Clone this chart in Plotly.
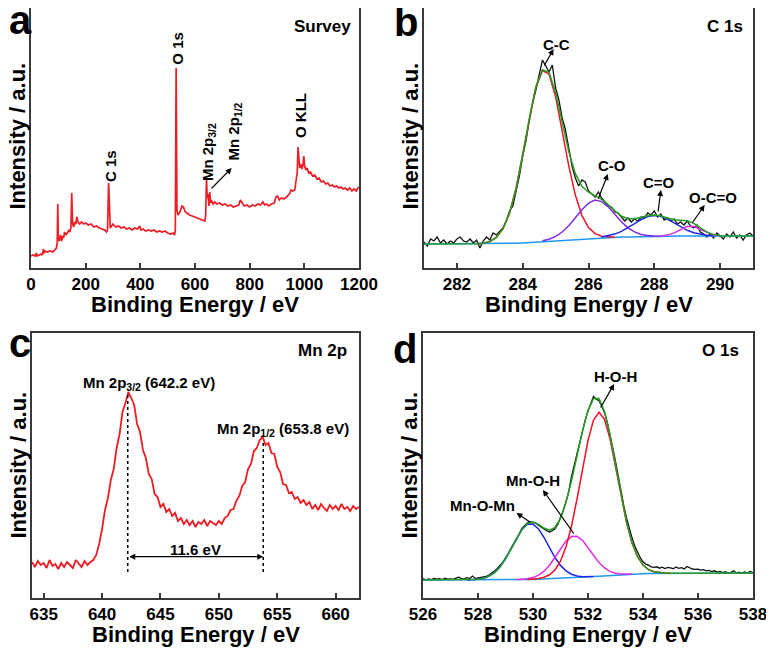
import numpy as np
import plotly.graph_objects as go

W, H = 774, 651
OFF = 8   # margen del <body> del html: la figura se dibuja desplazada 8 px
FONT = "Liberation Sans, Arial, sans-serif"

# ---------------- datos (a) survey ----------------
survey_be = [0, 8, 15, 20, 23, 30, 38, 42, 45, 48,
             52, 60, 70, 80, 88, 93, 96, 98, 100, 103,
             108, 112, 116, 119, 123, 128, 133, 138, 142, 146,
             149, 152, 156, 160, 164, 168, 172, 178, 185, 192,
             200, 210, 220, 230, 240, 250, 260, 270, 276, 280,
             284, 287, 290, 295, 300, 310, 320, 330, 340, 350,
             360, 370, 380, 390, 398, 402, 410, 420, 430, 440,
             450, 460, 470, 480, 490, 500, 510, 520, 525, 528,
             531, 534, 538, 545, 552, 558, 563, 570, 580, 590,
             600, 610, 620, 630, 636, 639, 642, 645, 648, 651,
             654, 657, 660, 666, 672, 680, 690, 700, 710, 720,
             730, 740, 750, 760, 766, 772, 780, 790, 800, 810,
             820, 830, 840, 848, 855, 862, 870, 880, 890, 896,
             902, 908, 915, 925, 935, 945, 952, 958, 965, 970,
             974, 977, 980, 983, 987, 991, 995, 998, 1001, 1006,
             1010, 1016, 1022, 1030, 1038, 1046, 1054, 1062, 1070, 1078,
             1086, 1094, 1102, 1110, 1118, 1126, 1134, 1142, 1150, 1158,
             1166, 1174, 1182, 1190, 1196, 1200]
survey_int = [12, 13, 12, 15, 12, 13, 14, 13, 19, 15,
              17, 16, 17, 16, 18, 20, 25, 64, 30, 27,
              33, 27, 32, 30, 36, 33, 35, 38, 36, 40,
              75, 45, 41, 46, 44, 51, 46, 44, 46, 44,
              45, 43, 44, 41, 42, 40, 39, 38, 36, 38,
              85, 45, 40, 42, 44, 41, 42, 40, 41, 39,
              40, 38, 40, 39, 42, 38, 39, 37, 38, 37,
              38, 36, 37, 36, 37, 35, 34, 35, 33, 38,
              200, 58, 53, 56, 62, 61, 57, 55, 53, 52,
              51, 50, 49, 48, 47, 52, 89, 70, 74, 62,
              76, 65, 68, 64, 66, 64, 65, 63, 64, 62,
              63, 61, 62, 63, 68, 65, 62, 63, 61, 63,
              62, 64, 63, 66, 63, 64, 62, 64, 65, 71,
              72, 68, 70, 69, 71, 74, 78, 77, 78, 88,
              95, 121, 112, 100, 104, 99, 103, 112, 102, 98,
              100, 95, 96, 92, 93, 89, 90, 86, 87, 84,
              85, 82, 83, 81, 82, 80, 81, 79, 80, 78,
              80, 77, 79, 77, 80, 81]

# ---------------- datos (b) C 1s ----------------
c1s_raw = [26, 22, 29, 27, 31, 25, 28, 24, 27, 25,
           29, 31, 27, 26, 29, 25, 28, 20, 27, 31,
           28, 35, 33, 37, 40, 47, 57, 62, 78, 92,
           112, 127, 148, 165, 178, 192, 208, 202, 196, 203,
           180, 168, 150, 138, 118, 102, 90, 82, 88, 86,
           77, 74, 71, 76, 70, 66, 62, 61, 56, 55,
           51, 47, 50, 46, 49, 47, 51, 50, 55, 53,
           57, 51, 54, 48, 50, 47, 49, 44, 46, 43,
           47, 42, 40, 43, 36, 34, 31, 34, 30, 35,
           32, 29, 34, 31, 36, 30, 33, 28, 33, 35,
           32]                                   # 281.0 -> 291.0, paso 0.1
c1s_fit = [24.0, 24.0, 24.0, 24.0, 24.0, 24.0, 24.0, 24.1, 24.3, 24.8,
           26.5, 30.6, 39.2, 54.9, 79.8, 113.0, 149.6, 181.2, 198.2, 195.7,
           175.6, 145.8, 116.4, 94.4, 81.6, 75.8, 72.4, 68.7, 63.3, 57.1,
           52.0, 49.3, 49.2, 50.7, 52.3, 53.0, 51.9, 50.0, 48.2, 47.7,
           47.2, 44.7, 40.2, 35.9, 33.4, 32.2, 32.0, 32.0, 32.0, 32.0,
           32.0]                                 # 281.0 -> 291.0, paso 0.2
c1s_bg = [24.0] * 11 + [24.1, 24.2, 24.4, 24.7, 25.0, 25.4, 25.9, 26.4, 26.9, 27.4,
                        27.9, 28.3, 28.7, 29.1, 29.5, 29.9, 30.2, 30.5, 30.7, 30.9,
                        31.1, 31.3, 31.4, 31.5, 31.6, 31.7, 31.8, 31.9] + [32.0] * 12
c1s_cc = [24.3, 24.8, 26.5, 30.6, 39.2, 54.9, 79.8, 113.0, 149.6, 180.9,
          197.4, 193.8, 171.4, 137.7, 102.4, 72.9, 52.4, 40.4, 34.4, 31.8,
          31.0, 30.8]                            # desde 282.6
c1s_co = [27.2, 28.8, 31.6, 36.0, 42.3, 50.2, 58.3, 64.9, 67.9, 66.4,
          61.2, 53.8, 46.3, 40.2, 36.1, 33.6, 32.4, 32.0, 31.8]   # desde 284.6
c1s_c_o = [30.9, 32.1, 33.9, 36.6, 40.2, 44.4, 48.5, 51.4, 52.6, 51.6,
           48.9, 45.0, 41.1, 37.7, 35.2, 33.6, 32.7, 32.3]        # desde 286.4
c1s_oco = [31.9, 32.9, 35.1, 38.6, 41.5, 41.5, 38.6, 35.2, 33.1, 32.2]  # desde 288.2

# ---------------- datos (c) Mn 2p ----------------
mn2p_int = [36, 31, 37, 33, 35, 30, 38, 32, 34, 29,
            35, 31, 36, 33, 30, 38, 34, 31, 37, 33,
            36, 38, 43, 54, 69, 88, 100, 118, 129, 150,
            164, 186, 195, 206, 200, 193, 174, 166, 148, 140,
            124, 119, 104, 101, 91, 94, 86, 89, 82, 85,
            77, 80, 74, 78, 73, 77, 71, 76, 74, 78,
            72, 77, 75, 73, 77, 74, 80, 82, 88, 89,
            97, 102, 112, 116, 129, 134, 147, 150, 158, 161,
            153, 155, 145, 144, 131, 126, 114, 113, 105, 106,
            99, 101, 95, 98, 93, 96, 89, 93, 88, 94,
            90, 87, 93, 89, 92, 88, 94, 89, 91, 87,
            92, 89, 91]                          # 634.0 -> 662.0, paso 0.25
mn_peaks = [642.2, 653.8]
mn_peak_tops = [206, 158]

# ---------------- datos (d) O 1s ----------------
o1s_raw = [19.5, 18.2, 19.0, 18.4, 19.6, 18.8, 19.3, 18.5, 19.8, 18.9,
           19.2, 18.6, 19.9, 20.8, 19.4, 19.1, 20.3, 19.5, 21.9, 19.6,
           20.1, 20.4, 20.9, 21.5, 23.0, 24.6, 27.0, 29.5, 32.4, 35.6,
           40.2, 44.1, 49.8, 54.0, 59.5, 64.2, 69.8, 72.6, 75.1, 76.4,
           75.5, 74.8, 72.9, 70.6, 69.1, 67.3, 66.0, 67.4, 69.2, 73.5,
           79.8, 87.3, 96.1, 106.4, 121.5, 133.2, 145.0, 156.3, 167.9, 178.2,
           187.0, 194.6, 201.5, 198.7, 197.4, 192.0, 185.1, 175.8, 163.9, 150.2,
           136.7, 121.0, 107.4, 92.6, 80.1, 69.3, 60.4, 52.1, 46.0, 40.3,
           36.2, 33.9, 32.8, 31.0, 30.6, 31.2, 29.8, 30.9, 29.5, 30.6,
           30.1, 29.3, 31.0, 29.7, 30.4, 29.1, 31.5, 30.2, 29.0, 28.6,
           28.9, 27.8, 28.3, 27.1, 27.6, 26.4, 27.2, 25.9, 26.5, 25.3,
           26.2, 25.0, 25.6, 27.3, 25.1, 25.8, 24.9, 26.1, 25.2, 26.6,
           25.4]                                 # 526.0 -> 538.0, paso 0.1
o1s_fit = [18.0] * 8 + [18.1, 18.3, 18.7, 19.7, 21.8, 25.4, 31.1, 39.1, 49.2, 59.8,
                        68.9, 74.6, 75.9, 73.7, 70.0, 67.9, 70.5, 79.6, 95.7, 117.2,
                        142.1, 166.9, 187.5, 199.4, 199.4, 186.6, 163.1, 133.3, 102.8, 75.9,
                        55.3, 41.4, 33.0, 28.4, 26.2, 25.2, 24.9] + [24.7] * 16
o1s_bg = [18.0] * 16 + [18.1, 18.2, 18.3, 18.5, 18.6, 18.8, 19.0, 19.2, 19.4, 19.5,
                        19.8, 20.0, 20.3, 20.6, 21.0, 21.4, 21.8, 22.2, 22.6, 23.0,
                        23.3, 23.6, 23.9, 24.1, 24.3, 24.4, 24.5, 24.6] + [24.7] * 17
o1s_mnomn = [18.1, 18.3, 18.7, 19.7, 21.8, 25.4, 31.1, 39.1, 49.2, 59.7,
             68.6, 73.8, 73.9, 69.1, 60.5, 50.3, 40.5, 32.6, 27.2, 23.8,
             22.0, 21.3, 21.3, 21.5]            # desde 527.6
o1s_mnoh = [18.3, 18.6, 19.3, 20.4, 22.8, 26.8, 32.8, 40.7, 49.2, 56.9,
            61.4, 61.7, 57.7, 50.7, 42.7, 35.4, 30.0, 26.6, 24.8, 24.1,
            23.9, 23.9]                          # desde 529.4
o1s_hoh = [18.6, 18.8, 19.4, 20.7, 23.2, 28.1, 36.8, 51.2, 72.0, 99.0,
           129.1, 157.5, 178.0, 185.8, 178.8, 159.1, 131.5, 102.0, 75.6, 55.3,
           41.4, 33.0, 28.4, 26.2, 25.2, 24.9, 24.7]   # desde 529.8


def grid(start, step, n):
    return np.round(start + step * np.arange(n), 3)


RED = "rgb(238,28,36)"
GREEN = "rgb(36,158,36)"
C_RED = "rgb(240,20,40)"
C_PURPLE = "rgb(128,40,236)"
C_BLUE = "rgb(32,40,232)"
C_MAG = "rgb(222,44,230)"
C_BG = "rgb(30,150,240)"

fig = go.Figure()


def linea(x, y, color, ax, width=1.5):
    fig.add_trace(go.Scatter(x=x, y=y, mode="lines", line=dict(color=color, width=width),
                             xaxis=ax[0], yaxis=ax[1], showlegend=False, hoverinfo="skip"))


# (a)
linea(survey_be, survey_int, RED, ("x", "y"), 1.7)
# (b)
linea(grid(281.0, 0.1, len(c1s_raw)), c1s_raw, "#111111", ("x2", "y2"), 1.3)
linea(grid(281.0, 0.2, len(c1s_bg)), c1s_bg, C_BG, ("x2", "y2"))
linea(grid(282.6, 0.2, len(c1s_cc)), c1s_cc, C_RED, ("x2", "y2"))
linea(grid(284.6, 0.2, len(c1s_co)), c1s_co, C_PURPLE, ("x2", "y2"))
linea(grid(286.4, 0.2, len(c1s_c_o)), c1s_c_o, C_BLUE, ("x2", "y2"))
linea(grid(288.2, 0.2, len(c1s_oco)), c1s_oco, C_MAG, ("x2", "y2"))
linea(grid(281.0, 0.2, len(c1s_fit)), c1s_fit, GREEN, ("x2", "y2"))
# (c)
linea(grid(634.0, 0.25, len(mn2p_int)), mn2p_int, RED, ("x3", "y3"), 1.8)
# (d)
linea(grid(526.0, 0.1, len(o1s_raw)), o1s_raw, "#111111", ("x4", "y4"), 1.3)
linea(grid(526.0, 0.2, len(o1s_bg)), o1s_bg, C_BG, ("x4", "y4"))
linea(grid(527.6, 0.2, len(o1s_mnomn)), o1s_mnomn, C_BLUE, ("x4", "y4"))
linea(grid(529.4, 0.2, len(o1s_mnoh)), o1s_mnoh, C_MAG, ("x4", "y4"))
linea(grid(529.8, 0.2, len(o1s_hoh)), o1s_hoh, C_RED, ("x4", "y4"))
linea(grid(526.0, 0.2, len(o1s_fit)), o1s_fit, GREEN, ("x4", "y4"))


# posiciones en pixeles de la pagina -> coordenadas paper
def fx(p):
    return (p - OFF) / W


def fy(p):
    return 1 - (p - OFF) / H


def eje_x(px0, px1, rng, dtick, anchor):
    return dict(domain=[fx(px0), fx(px1)], range=rng, dtick=dtick, anchor=anchor,
                showline=True, linecolor="#3a3a3a", linewidth=1.6, mirror=True,
                ticks="inside", ticklen=5, tickwidth=1.5, tickcolor="#3a3a3a",
                showgrid=False, zeroline=False, automargin=False,
                tickfont=dict(family=FONT, size=17, color="black", weight="bold"))


def eje_y(top, bottom, rng, anchor):
    if top < OFF:
        # el borde superior no cabe: se recorta el rango manteniendo la escala
        rng = [rng[0], rng[1] - (OFF - top) * (rng[1] - rng[0]) / (bottom - top)]
        top = OFF
    return dict(domain=[fy(bottom), min(fy(top), 1.0)], range=rng, anchor=anchor,
                showline=True, linecolor="#3a3a3a", linewidth=1.6, mirror=True,
                ticks="", showticklabels=False, showgrid=False, zeroline=False,
                automargin=False)


fig.update_layout(
    width=W, height=H, margin=dict(l=0, r=0, t=0, b=0, autoexpand=False),
    paper_bgcolor="white", plot_bgcolor="white",
    xaxis=eje_x(31, 359, [0, 1200], 200, "y"),
    yaxis=eje_y(5, 268, [0, 263], "x"),
    xaxis2=eje_x(424, 753, [281, 291], 2, "y2"),
    yaxis2=eje_y(5, 268, [0, 263], "x2"),
    xaxis3=eje_x(32, 359, [634, 662], 5, "y3"),
    yaxis3=eje_y(333, 598, [0, 265], "x3"),
    xaxis4=eje_x(423, 753, [526, 538], 2, "y4"),
    yaxis4=eje_y(333, 598, [0, 265], "x4"),
)

ann = []


def texto(t, x, y, xref, yref, size=15, angle=0):
    ann.append(dict(text=t, x=x, y=y, xref=xref, yref=yref, showarrow=False,
                    textangle=angle, xanchor="center", yanchor="middle",
                    font=dict(family=FONT, size=size, color="black", weight="bold")))


def flecha(x0, y0, x1, y1, xr, yr, both=False):
    ann.append(dict(text="", x=x1, y=y1, ax=x0, ay=y0, xref=xr, yref=yr, axref=xr, ayref=yr,
                    showarrow=True, arrowhead=2, arrowsize=1, arrowwidth=1.2,
                    arrowcolor="black", arrowside="end+start" if both else "end",
                    standoff=0, startstandoff=0))


# letras de panel y titulos de ejes (pixeles de la pagina)
for letra, px, py in [("a", 20, 20), ("b", 406, 22), ("c", 20, 343), ("d", 405, 349)]:
    texto(letra, fx(px), fy(py), "paper", "paper", size=40)
for (x0, x1, top, bottom) in [(31, 359, 5, 268), (424, 753, 5, 268),
                              (32, 359, 333, 598), (423, 753, 333, 598)]:
    texto("Binding Energy / eV", fx((x0 + x1) / 2), fy(bottom + 36), "paper", "paper", size=22)
    texto("Intensity / a.u.", fx(x0 - 14), fy((top + bottom) / 2), "paper", "paper",
          size=22, angle=-90)

# (a) etiquetas
texto("Survey", 1068, 242, "x", "y", size=17)
texto("C 1s", 289, 102, "x", "y", angle=-90)
texto("O 1s", 533, 220, "x", "y", angle=-90)
texto("Mn 2p<sub>3/2</sub>", 648, 116, "x", "y", angle=-90)
texto("Mn 2p<sub>1/2</sub>", 741, 136, "x", "y", angle=-90)
texto("O KLL", 984, 153, "x", "y", angle=-90)
flecha(655, 78, 734, 100, "x", "y")

# (b) etiquetas
texto("C 1s", 290.15, 242, "x2", "y2", size=17)
texto("C-C", 285.04, 224, "x2", "y2")
flecha(284.63, 201, 284.94, 219, "x2", "y2")
texto("C-O", 286.71, 103, "x2", "y2")
flecha(286.28, 68, 286.59, 94, "x2", "y2")
texto("C=O", 288.14, 86, "x2", "y2")
flecha(288.11, 55, 288.2, 78, "x2", "y2")
texto("O-C=O", 289.78, 71, "x2", "y2")
flecha(289.13, 44, 289.53, 63, "x2", "y2")

# (c) etiquetas
texto("Mn 2p", 658.9, 248, "x3", "y3", size=17)
texto("Mn 2p<sub>3/2</sub> (642.2 eV)", 644.0, 215, "x3", "y3")
texto("Mn 2p<sub>1/2</sub> (653.8 eV)", 655.5, 169, "x3", "y3")
texto("11.6 eV", 648.0, 49, "x3", "y3")
flecha(mn_peaks[0], 41.3, mn_peaks[1], 41.3, "x3", "y3", both=True)

# (d) etiquetas
texto("O 1s", 536.8, 248, "x4", "y4", size=17)
texto("H-O-H", 533.0, 221.5, "x4", "y4")
flecha(532.43, 189, 532.95, 214, "x4", "y4")
texto("Mn-O-H", 530.0, 118, "x4", "y4")
flecha(531.52, 63, 530.36, 108, "x4", "y4")
texto("Mn-O-Mn", 528.18, 93, "x4", "y4")
flecha(529.94, 75, 529.4, 85, "x4", "y4")

fig.update_layout(annotations=ann)

for e, top in zip(mn_peaks, mn_peak_tops):
    fig.add_shape(type="line", x0=e, x1=e, y0=26, y1=top, xref="x3", yref="y3",
                  line=dict(color="black", width=1.5, dash="dot"))

fig.write_html("out.html")
